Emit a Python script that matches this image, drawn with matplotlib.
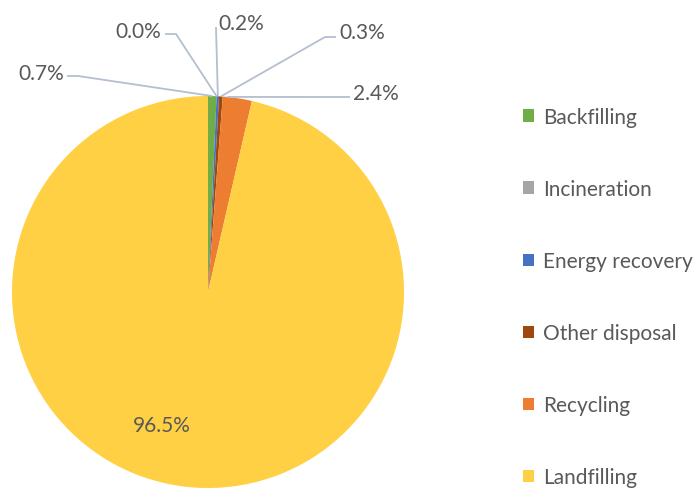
import numpy as np
import matplotlib.pyplot as plt
from matplotlib.patches import Patch

# data
categories = ['Backfilling', 'Incineration', 'Energy recovery', 'Other disposal', 'Recycling', 'Landfilling']
shares = [0.7, 0.0, 0.2, 0.3, 2.4, 96.5]
colors = ['#70AD47', '#A5A5A5', '#4472C4', '#9E480E', '#ED7D31', '#FFCF44']
pct_labels = ['0.7%', '0.0%', '0.2%', '0.3%', '2.4%', '96.5%']

W, H = 700, 489
plt.rcParams['font.family'] = ['Lato', 'DejaVu Sans']
fig = plt.figure(figsize=(W / 100, H / 100), dpi=100)
ax = fig.add_axes([0, 0, 1, 1])

cx, cy, r = 208, H - 293, 196
wedges, _ = ax.pie(shares, colors=colors, startangle=90, counterclock=False,
                   center=(cx, cy), radius=r, frame=True,
                   wedgeprops=dict(linewidth=0))
ax.set_xlim(0, W)
ax.set_ylim(0, H)
ax.set_aspect('equal')
ax.axis('off')

txt_col = '#595959'
line_col = '#B4BFCF'
fs = 15

# anchor on the rim of each small wedge
cum = np.cumsum([0] + shares[:-1])
def anchor(i):
    a = np.deg2rad(90 - 3.6 * (cum[i] + 0.5 * min(shares[i], 0.7)))
    return cx + r * np.cos(a), cy + r * np.sin(a)

# text position (px), ha, elbow points (px)
layout = [
    ((64, 74), 'right', [(67, 77), (78, 77)]),
    ((161, 32), 'right', [(165, 35), (176, 35)]),
    ((218, 24), 'left', [(216, 28)]),
    ((339, 33), 'left', [(336, 38), (325, 38)]),
    ((353, 94), 'left', [(350, 98)]),
]
for i, ((tx, ty), ha, pts) in enumerate(layout):
    ax.text(tx, H - ty, pct_labels[i], ha=ha, va='center', fontsize=fs, color=txt_col)
    ax_, ay_ = anchor(i)
    xs = [p[0] for p in pts] + [ax_]
    ys = [H - p[1] for p in pts] + [ay_]
    ax.plot(xs, ys, color=line_col, lw=1.3, solid_capstyle='butt')

ax.text(162, H - 426, pct_labels[5], ha='center', va='center', fontsize=fs, color=txt_col)

handles = [Patch(facecolor=c, edgecolor='none') for c in colors]
leg = ax.legend(handles, categories, loc='upper left', bbox_to_anchor=(523 / W, 1 - 108 / H),
                frameon=False, fontsize=fs, handlelength=0.55, handleheight=0.55,
                handletextpad=0.4, labelspacing=2.5, borderaxespad=0, borderpad=0)
for t in leg.get_texts():
    t.set_color(txt_col)

fig.savefig('out.png', dpi=100)
